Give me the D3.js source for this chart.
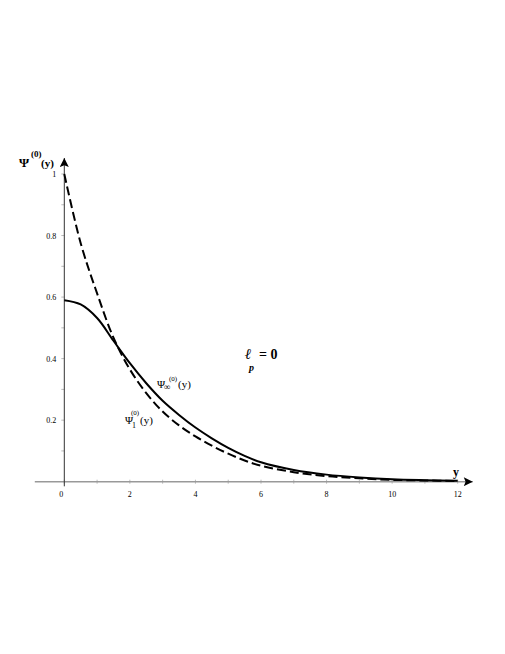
<!DOCTYPE html>
<html>
<head>
<meta charset="utf-8">
<script src="https://cdn.jsdelivr.net/npm/d3@7"></script>
<style>
  body { margin: 0; background: #fff; }
  text { font-family: "Liberation Serif", "DejaVu Serif", serif; fill: #000; }
</style>
</head>
<body>
<div id="container"></div>
<script>
/* CONSTANTS AND GLOBALS */
const width = 505,
  height = 654;

/* DATA */
// solid curve, Psi_inf
const yInf = [0, 0.5, 1, 1.5, 2, 2.5, 3, 3.5, 4, 4.5, 5, 5.5, 6, 7, 8, 9, 10, 11, 12];
const psiInf = [0.59, 0.576, 0.532, 0.458, 0.385, 0.32, 0.263, 0.217, 0.176, 0.141, 0.11, 0.084, 0.063, 0.038, 0.023, 0.014, 0.008, 0.005, 0.003];
// dashed curve, Psi_1
const yOne = [0, 0.5, 1, 1.5, 2, 2.5, 3, 3.5, 4, 4.5, 5, 5.5, 6, 7, 8, 9, 10, 11, 12];
const psiOne = [1, 0.775, 0.612, 0.468, 0.365, 0.288, 0.228, 0.183, 0.147, 0.117, 0.091, 0.069, 0.052, 0.031, 0.018, 0.011, 0.006, 0.004, 0.002];

const xTicks = [0, 2, 4, 6, 8, 10, 12];
const yTicks = [0.2, 0.4, 0.6, 0.8, 1];

/* SCALES */
const xScale = d3.scaleLinear().domain([0, 12]).range([64.3, 457.7]);
const yScale = d3.scaleLinear().domain([0, 1]).range([481.7, 174]);

const svg = d3.select("#container").append("svg")
  .attr("width", width)
  .attr("height", height);

svg.append("defs").append("marker")
  .attr("id", "arr")
  .attr("viewBox", "0 0 10 10")
  .attr("refX", 10).attr("refY", 5)
  .attr("markerWidth", 18).attr("markerHeight", 9)
  .attr("markerUnits", "userSpaceOnUse")
  .attr("orient", "auto")
  .append("path")
  .attr("d", "M0,0 L10,5 L0,10 L2,5 Z")
  .attr("fill", "#000");

// minor ticks
const xMinor = d3.range(0, 13, 1);
svg.append("g").selectAll("line")
  .data(xMinor)
  .join("line")
  .attr("x1", d => xScale(d)).attr("x2", d => xScale(d))
  .attr("y1", yScale(0) - 2).attr("y2", yScale(0) + 2)
  .attr("stroke", "#bbb").attr("stroke-width", 1);

const yMinor = d3.range(0.1, 1.01, 0.1);
svg.append("g").selectAll("line")
  .data(yMinor)
  .join("line")
  .attr("x1", xScale(0) - 3).attr("x2", xScale(0))
  .attr("y1", d => yScale(d)).attr("y2", d => yScale(d))
  .attr("stroke", "#bbb").attr("stroke-width", 1);

// x axis line with arrow
svg.append("line")
  .attr("x1", xScale(-0.9)).attr("x2", xScale(12.46))
  .attr("y1", yScale(0)).attr("y2", yScale(0))
  .attr("stroke", "#999").attr("stroke-width", 1.6)
  .attr("marker-end", "url(#arr)");

// y axis line with arrow
svg.append("line")
  .attr("x1", xScale(0)).attr("x2", xScale(0))
  .attr("y1", yScale(-0.015)).attr("y2", yScale(1.052))
  .attr("stroke", "#333").attr("stroke-width", 1)
  .attr("marker-end", "url(#arr)");

// tick labels
svg.append("g").selectAll("text")
  .data(xTicks)
  .join("text")
  .attr("x", d => d === 0 ? xScale(d) - 3 : xScale(d))
  .attr("y", yScale(0) + 15)
  .attr("text-anchor", "middle")
  .attr("font-size", 8)
  .text(d => d);

svg.append("g").selectAll("text")
  .data(yTicks)
  .join("text")
  .attr("x", xScale(0) - 8)
  .attr("y", d => yScale(d) + 3)
  .attr("text-anchor", "end")
  .attr("font-size", 8)
  .text(d => d);

// curves
const line = d3.line().curve(d3.curveCatmullRom.alpha(0.5));

svg.append("path")
  .attr("d", line(yOne.map((v, i) => [xScale(v), yScale(psiOne[i])])))
  .attr("fill", "none")
  .attr("stroke", "#000")
  .attr("stroke-width", 2)
  .attr("stroke-dasharray", "9,4");

svg.append("path")
  .attr("d", line(yInf.map((v, i) => [xScale(v), yScale(psiInf[i])])))
  .attr("fill", "none")
  .attr("stroke", "#000")
  .attr("stroke-width", 2);

// axis titles
svg.append("text").attr("x", 19).attr("y", 167)
  .attr("font-size", 13).attr("font-weight", "bold").text("\u03A8");
svg.append("text").attr("x", 31).attr("y", 157)
  .attr("font-size", 9).attr("font-weight", "bold").text("(0)");
svg.append("text").attr("x", 41).attr("y", 167)
  .attr("font-size", 11).attr("font-weight", "bold").text("(y)");

svg.append("text")
  .attr("x", 456).attr("y", 476)
  .attr("text-anchor", "middle")
  .attr("font-size", 12).attr("font-weight", "bold")
  .text("y");

// curve labels
svg.append("text").attr("x", 157).attr("y", 388).attr("font-size", 11).text("\u03A8");
svg.append("text").attr("x", 164).attr("y", 390).attr("font-size", 9).text("\u221E");
svg.append("text").attr("x", 169).attr("y", 381).attr("font-size", 7).text("(0)");
svg.append("text").attr("x", 178).attr("y", 388).attr("font-size", 11).text("(y)");

svg.append("text").attr("x", 125).attr("y", 424).attr("font-size", 11).text("\u03A8");
svg.append("text").attr("x", 132).attr("y", 428).attr("font-size", 8).text("1");
svg.append("text").attr("x", 131).attr("y", 415).attr("font-size", 7).text("(0)");
svg.append("text").attr("x", 140).attr("y", 424).attr("font-size", 11).text("(y)");

// l_p = 0
svg.append("text").attr("x", 245).attr("y", 359)
  .attr("font-size", 15).attr("font-weight", "bold").attr("font-style", "italic").text("\u2113");
svg.append("text").attr("x", 249).attr("y", 371)
  .attr("font-size", 10).attr("font-weight", "bold").attr("font-style", "italic").text("p");
svg.append("text").attr("x", 259).attr("y", 359)
  .attr("font-size", 14).attr("font-weight", "bold").text("= 0");
</script>
</body>
</html>
